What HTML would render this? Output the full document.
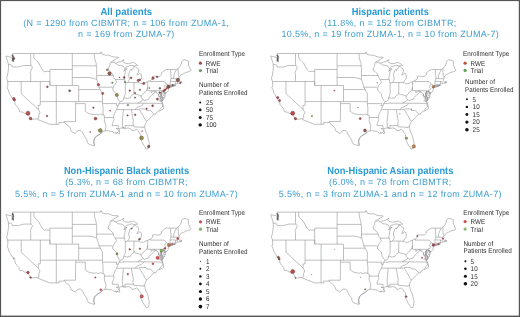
<!DOCTYPE html>
<html><head><meta charset="utf-8"><style>
html,body{margin:0;padding:0;background:#fff;}
body{width:520px;height:317px;overflow:hidden;}
svg{display:block;}
#w{width:520px;height:317px;will-change:transform;}
text{font-family:"Liberation Sans",sans-serif;text-rendering:geometricPrecision;}
.t{font-weight:bold;fill:#2a9ad3;font-size:10.2px;}
.s{fill:#3f9ecf;font-size:9px;letter-spacing:0.34px;}
.l{fill:#2b2b2b;font-size:6.9px;letter-spacing:0.07px;}
</style></head><body>
<div id="w"><svg width="520" height="317" viewBox="0 0 520 317">
<defs><g id="us"><path d="M6.1 56.0 L9.7 56.9 L11.6 57.1 L12.1 58.1 L11.9 61.1 L13.4 60.3 L13.5 58.9 L14.0 57.5 L13.2 55.5 L12.9 54.3 L12.4 53.5 L100.8 53.5 L100.8 52.0 L101.5 52.2 L102.3 54.1 L102.6 54.7 L105.0 54.9 L106.4 55.4 L108.1 55.0 L110.0 55.7 L112.2 56.7 L114.8 57.1 L117.0 57.1 L118.6 57.5 L115.4 59.5 L112.5 61.1 L110.6 62.4 L111.6 62.7 L114.1 61.9 L114.5 63.1 L116.0 63.2 L118.6 62.1 L120.9 61.7 L124.1 59.6 L122.8 61.3 L123.4 62.1 L125.7 63.3 L128.2 63.7 L131.1 62.9 L133.5 62.4 L135.1 63.5 L136.2 63.9 L137.8 65.5 L135.6 65.7 L134.2 66.0 L132.1 65.3 L129.4 65.7 L128.2 66.5 L126.8 66.3 L126.0 67.3 L125.0 69.1 L123.8 71.4 L124.9 70.1 L127.1 68.5 L126.0 70.1 L125.4 71.5 L124.9 73.1 L124.7 75.5 L124.1 77.4 L124.4 79.5 L125.0 82.0 L125.3 82.7 L126.0 83.1 L127.5 82.5 L128.6 81.1 L129.5 78.7 L128.7 76.3 L128.8 74.3 L129.4 72.3 L130.0 70.5 L131.4 69.3 L131.8 70.5 L132.2 69.5 L133.4 67.9 L134.1 66.4 L135.3 66.7 L136.6 67.7 L138.5 69.1 L138.8 70.7 L138.3 72.3 L137.5 73.7 L136.9 75.1 L138.2 74.5 L139.8 73.3 L141.1 73.9 L141.6 77.5 L141.1 79.1 L139.8 80.3 L139.1 81.5 L138.3 82.6 L139.8 83.1 L140.7 83.7 L143.0 83.7 L143.9 83.5 L145.5 82.5 L147.7 81.6 L149.1 81.0 L150.2 80.5 L152.3 79.1 L152.9 78.0 L152.4 76.5 L154.5 76.1 L157.1 76.5 L159.6 76.3 L160.6 75.7 L161.6 74.5 L161.1 73.1 L162.8 71.9 L165.1 70.1 L166.4 69.5 L170.7 69.5 L176.6 69.5 L178.0 68.3 L179.2 67.5 L180.5 65.5 L181.3 63.9 L181.6 61.5 L183.9 59.7 L186.5 60.3 L188.5 61.1 L188.5 65.7 L189.6 66.9 L190.1 68.9 L191.2 70.3 L189.4 71.5 L187.2 72.1 L185.3 72.7 L183.7 73.7 L181.7 74.5 L180.8 74.9 L180.1 76.1 L179.2 77.2 L178.8 78.1 L179.5 78.9 L178.5 79.5 L178.1 80.1 L178.7 80.7 L179.5 81.7 L179.8 82.5 L181.4 82.5 L180.8 81.3 L181.3 81.3 L181.6 82.3 L181.6 82.9 L179.5 83.3 L178.9 83.1 L177.8 83.5 L176.9 83.7 L176.6 84.1 L175.5 84.3 L173.7 84.5 L172.1 84.5 L170.5 85.1 L169.7 85.5 L169.2 86.3 L168.6 86.7 L167.8 87.6 L168.6 87.8 L168.4 89.2 L168.3 90.6 L167.2 92.2 L165.5 93.8 L165.7 92.8 L164.4 92.0 L163.6 91.2 L164.1 92.4 L165.1 94.4 L165.2 95.8 L164.6 97.6 L163.5 99.4 L162.3 101.2 L162.7 99.2 L162.7 97.6 L161.7 96.0 L161.4 94.4 L161.7 92.8 L162.2 91.4 L160.8 92.6 L160.6 94.0 L160.9 96.0 L161.2 97.6 L161.2 99.6 L161.2 101.6 L162.2 101.9 L162.6 103.4 L163.6 106.4 L163.7 108.6 L162.2 109.6 L160.1 110.8 L158.4 111.2 L156.3 112.7 L155.9 114.2 L154.0 114.2 L153.1 114.8 L151.9 116.4 L149.7 118.6 L147.9 120.0 L146.6 121.5 L145.5 123.6 L144.8 125.6 L144.7 126.8 L144.9 128.4 L145.2 130.0 L146.2 132.8 L147.6 135.8 L148.4 139.6 L149.3 142.8 L148.9 146.6 L148.1 148.6 L146.2 149.2 L145.7 148.0 L143.6 145.1 L142.8 143.6 L142.0 141.6 L140.7 139.6 L140.4 137.6 L140.9 134.8 L139.6 133.2 L137.8 130.4 L136.2 129.2 L135.3 130.0 L132.2 130.9 L131.1 129.0 L128.6 128.0 L126.3 128.2 L125.3 128.5 L123.8 128.7 L123.7 126.9 L123.4 128.0 L122.5 128.1 L120.5 128.2 L118.6 128.9 L119.3 129.4 L118.6 130.8 L119.6 132.0 L119.7 133.0 L119.3 133.8 L117.7 132.6 L116.4 133.2 L114.1 133.0 L112.5 131.4 L110.0 131.2 L106.8 130.6 L105.0 130.8 L102.3 132.0 L100.7 133.6 L98.3 135.0 L96.8 135.8 L94.3 138.4 L93.6 141.6 L94.4 145.4 L94.4 145.8 L92.7 145.4 L90.7 144.8 L88.5 144.0 L87.1 141.6 L86.9 139.6 L84.7 136.8 L83.7 134.8 L82.4 132.2 L80.8 130.4 L77.6 130.6 L76.0 132.8 L75.2 133.6 L74.1 132.8 L71.2 131.2 L70.2 128.4 L69.3 126.8 L67.4 125.2 L64.4 122.5 L59.0 122.5 L59.0 124.3 L49.8 124.3 L37.9 119.6 L38.1 118.7 L30.5 119.5 L30.2 118.8 L29.7 116.8 L28.0 115.2 L26.7 114.6 L26.0 113.6 L24.7 113.4 L22.2 112.0 L19.7 111.8 L19.3 111.2 L19.0 109.0 L17.1 106.8 L15.1 104.4 L15.1 103.2 L14.8 101.8 L13.2 99.6 L13.2 98.4 L11.6 97.6 L10.8 95.6 L9.4 93.6 L8.1 89.6 L7.1 87.8 L7.9 85.5 L7.7 81.5 L6.6 78.2 L7.4 75.9 L8.2 71.1 L8.6 67.5 L8.4 64.5 L8.1 62.7 L7.4 60.3 L6.3 57.9 L6.1 56.0Z M168.6 87.2 L170.2 87.2 L173.1 86.3 L175.5 85.3 L174.1 85.5 L171.8 85.7 L169.9 85.9 L168.8 86.4Z M8.4 64.5 L10.6 64.7 L11.9 65.3 L12.4 67.1 L15.1 66.9 L17.4 67.1 L19.6 66.7 L22.5 65.8 L24.5 65.5 L31.1 65.5 M31.1 65.5 L30.7 63.8 L30.7 53.5 M31.1 65.5 L32.5 67.1 L31.8 68.7 L31.2 70.3 L30.2 72.3 L30.7 74.1 L30.7 81.5 M7.7 81.5 L49.9 81.5 M21.2 81.5 L21.2 93.6 L38.4 109.6 M38.4 109.6 L40.0 112.4 L38.8 115.2 L38.8 117.6 L38.1 118.7 M38.4 109.6 L38.3 107.6 L38.1 105.4 L40.3 105.2 L40.3 101.6 M40.3 101.6 L40.3 81.5 M40.3 101.6 L102.5 101.6 M56.3 124.3 L56.3 85.5 M49.9 81.5 L49.9 85.5 L72.3 85.5 M49.9 85.5 L49.9 69.5 M49.9 71.6 L47.2 71.3 L44.3 71.7 L42.4 69.9 L40.6 66.7 L38.8 63.1 L37.2 61.5 L35.0 59.3 L33.9 57.5 L33.9 53.5 M49.9 69.5 L72.3 69.5 M72.3 53.5 L72.3 85.5 M72.3 65.8 L96.3 65.8 M72.3 77.5 L90.1 77.5 L92.0 78.1 L94.3 78.5 L96.7 79.5 M72.3 85.5 L78.7 85.5 L78.7 101.6 M78.7 89.6 L100.4 89.6 M75.7 101.6 L75.7 103.6 L75.5 121.6 L64.1 121.6 L64.4 122.5 M75.7 103.6 L85.3 103.6 L85.3 111.3 M85.3 111.3 L86.6 112.1 L87.9 113.0 L89.8 114.0 L92.0 114.2 L94.4 114.7 L96.2 114.2 L98.4 115.0 L100.4 114.1 L103.0 115.0 L104.4 115.4 M102.5 101.6 L102.5 103.6 L103.1 108.0 L103.0 115.0 M104.4 115.4 L104.4 121.6 L104.5 122.0 L106.0 125.6 L105.5 129.2 L105.0 130.8 M104.4 117.5 L113.6 117.5 M113.6 117.5 L114.1 119.6 L113.2 121.6 L112.5 123.6 L112.1 125.6 L118.2 125.6 L118.3 127.6 L118.6 128.9 M113.6 117.5 L113.8 115.6 L114.5 113.6 L115.6 111.2 L116.7 109.6 L117.2 107.6 L118.3 105.6 L118.9 103.6 L120.1 101.6 M102.5 103.6 L116.9 103.6 L116.2 105.6 L118.3 105.6 M120.1 101.6 L118.9 100.4 L117.7 98.4 L116.7 95.2 L116.7 94.0 L115.1 92.4 L112.9 90.4 L112.8 88.0 M98.9 87.2 L111.8 87.2 L112.8 88.0 M102.5 101.6 L102.5 93.2 L101.3 91.6 L100.4 89.6 L98.9 87.2 M98.9 87.2 L98.4 84.7 L97.8 82.7 L97.5 81.5 L96.7 79.5 M96.7 79.5 L96.7 75.5 L96.7 68.3 L96.3 65.8 M96.3 65.8 L96.2 63.5 L95.5 61.5 L94.6 57.9 L94.4 55.5 L94.2 53.5 M96.7 75.5 L113.4 75.5 M113.4 75.5 L113.7 77.5 L115.3 79.5 L116.7 82.3 L115.4 83.7 L114.1 85.5 L112.8 88.0 M113.4 75.5 L112.2 73.5 L110.3 71.5 L108.4 70.5 L108.5 67.9 L109.8 65.9 L110.0 65.1 L110.0 63.1 L110.6 62.6 M115.3 79.5 L124.4 79.5 M125.0 69.1 L124.2 67.9 L123.4 66.3 L121.2 65.5 L117.7 65.1 L116.0 63.2 M125.3 82.5 L125.3 92.2 L125.4 94.0 L124.7 95.6 L123.9 97.6 L123.6 98.4 M123.6 98.4 L123.4 100.0 L122.1 101.2 L120.1 101.6 M127.5 82.5 L134.0 82.5 L138.3 82.6 M134.0 82.5 L133.9 93.2 M133.9 93.2 L133.4 94.6 L132.1 95.2 L130.8 96.4 L130.2 97.8 L128.2 98.2 L126.6 98.4 L125.0 97.8 L123.6 98.4 M147.7 81.6 L147.7 90.7 M147.7 87.0 L147.1 89.2 L146.2 91.2 L144.6 92.2 L143.3 94.0 L141.1 96.0 M141.1 96.0 L139.1 95.2 L137.5 94.8 L135.6 94.4 L133.9 93.2 M141.1 96.0 L141.5 98.0 L143.1 99.4 L142.0 100.8 L137.6 103.2 M137.6 103.2 L123.6 103.2 L123.6 103.6 L118.9 103.6 M137.6 103.2 L162.6 103.4 M144.1 103.3 L143.3 104.4 L142.3 105.2 L141.1 105.8 L139.1 106.8 L137.2 107.4 L135.6 108.8 L135.5 109.6 M139.5 109.6 L116.7 109.6 M139.5 108.8 L142.0 108.8 L146.0 109.0 L146.5 109.6 L146.8 110.4 L150.4 110.4 L154.0 114.2 M139.5 109.6 L140.7 111.6 L142.0 114.0 L143.3 116.0 L144.9 119.2 L146.6 121.5 M131.4 109.6 L132.1 113.6 L132.8 118.2 L133.4 120.4 L133.0 123.6 L133.4 125.6 L133.8 126.8 M133.8 126.8 L142.3 127.3 L142.8 128.0 L143.3 126.8 L144.7 126.8 M133.4 125.6 L125.0 125.6 L125.3 128.5 M123.1 109.6 L123.4 110.0 L122.3 122.0 L122.5 128.1 M143.1 99.4 L144.3 100.8 L146.2 100.0 L148.4 99.4 L149.4 97.6 L150.7 96.0 L151.9 94.8 L154.5 92.8 L154.7 91.8 L156.7 92.3 M156.7 92.3 L155.2 91.2 L154.2 90.8 L152.9 91.6 L151.0 92.8 L151.0 90.7 M147.7 90.7 L162.9 90.7 L163.5 90.2 L164.1 90.3 M156.7 92.3 L157.4 93.2 L158.8 94.0 L158.4 96.0 L161.2 97.6 M162.7 97.6 L164.6 97.6 M162.9 90.7 L163.2 95.8 L165.2 95.8 M163.6 91.2 L164.1 90.3 L166.2 88.8 L164.8 87.2 L165.1 85.5 L166.4 84.1 M166.4 84.1 L168.9 85.5 L168.6 86.7 M150.2 80.5 L150.2 81.5 L164.3 81.5 L165.2 82.5 L166.4 84.1 M169.7 85.5 L170.2 84.3 L170.2 81.3 L171.0 78.5 L171.0 75.1 L170.5 73.5 L170.7 69.5 M170.2 81.3 L175.7 81.4 M175.7 81.4 L175.5 84.3 M175.7 81.5 L177.0 81.5 L177.8 83.5 M171.0 78.5 L173.5 78.6 L177.4 78.7 L178.8 78.1 M173.5 78.6 L173.9 75.1 L175.0 72.3 L176.6 69.5 M179.2 77.2 L178.4 75.5 L178.2 72.3 L178.0 68.3" fill="#fff" stroke="#8a8a8a" stroke-width="0.55" stroke-linejoin="round"/><path d="M12.3 55.2 C13.2 56.2 13.4 57.4 13.0 58.6 C12.6 59.6 12.9 60.6 13.2 61.2" fill="none" stroke="#55555d" stroke-width="1.4" stroke-linecap="round"/><path d="M162.2 91.4 L160.8 92.6 L160.6 94.0 L160.9 96.0 L161.2 97.6 L161.2 99.6 L161.2 101.6 L162.2 101.9 M161.2 97.6 L159.3 96.4 L158.7 95.2 L158.8 94.2 M161.2 99.2 L159.6 98.0 L158.7 97.2 M160.9 100.6 L159.6 99.6 M161.2 101.6 L160.0 100.8 L158.7 100.4 M162.3 101.2 L162.7 99.2 L162.7 97.6 L161.7 96.0 L161.4 94.4 L161.7 92.8 L162.2 91.4 M165.5 93.8 L165.7 92.8 L164.4 92.0 L163.6 91.2 L164.1 92.4 L165.1 94.4 M168.6 87.2 L170.2 87.2 L173.1 86.3 L175.5 85.3 L174.1 85.5 L171.8 85.7 L169.9 85.9 L168.8 86.4 M162.2 103.4 L162.2 105.6 L163.0 106.0 L161.6 107.6 L160.6 108.4 L160.0 109.6 L159.6 110.6 M102.6 131.8 L101.0 133.4 L98.1 135.2 L95.9 136.8 L94.8 138.4 L94.0 140.8 L94.1 143.2 L94.4 145.2 M116.1 128.4 L117.2 129.4 L118.0 128.8 L116.1 128.4 M119.3 130.0 L118.9 131.2 L119.6 132.4 M115.4 132.4 L116.7 133.2 L117.7 132.6" fill="none" stroke="#7d7d88" stroke-width="0.5" stroke-linejoin="round"/></g></defs>
<rect width="520" height="317" fill="#fff"/>

<g transform="translate(0.0 0.0)"><use href="#us"/>
<circle cx="13.8" cy="58.6" r="1.07" fill="#8a4a36" fill-opacity="0.75" stroke="#4e2a22" stroke-width="0.45"/>
<circle cx="13.8" cy="98.6" r="1.18" fill="#b04440" fill-opacity="0.90" stroke="#642828" stroke-width="0.45"/>
<circle cx="14.5" cy="99.9" r="1.07" fill="#b04440" fill-opacity="0.90" stroke="#642828" stroke-width="0.45"/>
<circle cx="28.0" cy="113.2" r="1.98" fill="#b04440" fill-opacity="0.90" stroke="#642828" stroke-width="0.45"/>
<circle cx="30.6" cy="118.6" r="1.27" fill="#9a3c38" fill-opacity="0.90" stroke="#5a2a2a" stroke-width="0.45"/>
<circle cx="47.0" cy="116.0" r="0.83" fill="#9a3c38" fill-opacity="0.90" stroke="#5a2a2a" stroke-width="0.45"/>
<circle cx="47.4" cy="86.8" r="0.88" fill="#9a3c38" fill-opacity="0.90" stroke="#5a2a2a" stroke-width="0.45"/>
<circle cx="69.7" cy="90.8" r="1.02" fill="#84504a" fill-opacity="0.90" stroke="#4e3636" stroke-width="0.45"/>
<circle cx="98.4" cy="84.7" r="1.18" fill="#b04440" fill-opacity="0.90" stroke="#642828" stroke-width="0.45"/>
<circle cx="102.7" cy="93.4" r="1.07" fill="#b04440" fill-opacity="0.90" stroke="#642828" stroke-width="0.45"/>
<circle cx="93.4" cy="107.7" r="0.72" fill="#9a3c38" fill-opacity="0.90" stroke="#5a2a2a" stroke-width="0.45"/>
<circle cx="95.5" cy="118.6" r="1.43" fill="#9a3c38" fill-opacity="0.90" stroke="#5a2a2a" stroke-width="0.45"/>
<circle cx="100.3" cy="130.5" r="1.88" fill="#8e8240" fill-opacity="0.90" stroke="#5a5226" stroke-width="0.45"/>
<circle cx="90.2" cy="131.9" r="0.57" fill="#9a3c38" fill-opacity="0.90" stroke="#5a2a2a" stroke-width="0.25"/>
<circle cx="110.2" cy="110.7" r="0.67" fill="#9a3c38" fill-opacity="0.90" stroke="#5a2a2a" stroke-width="0.25"/>
<circle cx="107.2" cy="69.8" r="0.98" fill="#b07a62" fill-opacity="0.90" stroke="#7a5040" stroke-width="0.45"/>
<circle cx="109.5" cy="73.5" r="1.68" fill="#8a4a36" fill-opacity="0.90" stroke="#4e2a22" stroke-width="0.45"/>
<circle cx="112.4" cy="82.8" r="0.78" fill="#6a9a5c" fill-opacity="0.90" stroke="#45663e" stroke-width="0.45"/>
<circle cx="119.5" cy="77.5" r="0.57" fill="#9a3c38" fill-opacity="0.90" stroke="#5a2a2a" stroke-width="0.25"/>
<circle cx="124.2" cy="77.5" r="0.88" fill="#9a3c38" fill-opacity="0.90" stroke="#5a2a2a" stroke-width="0.45"/>
<circle cx="124.9" cy="82.0" r="0.78" fill="#6a9a5c" fill-opacity="0.90" stroke="#45663e" stroke-width="0.45"/>
<circle cx="131.1" cy="77.8" r="0.88" fill="#9a3c38" fill-opacity="0.90" stroke="#5a2a2a" stroke-width="0.45"/>
<circle cx="138.2" cy="80.4" r="1.07" fill="#b04440" fill-opacity="0.90" stroke="#642828" stroke-width="0.45"/>
<circle cx="139.8" cy="79.8" r="0.88" fill="#b04440" fill-opacity="0.90" stroke="#642828" stroke-width="0.45"/>
<circle cx="143.7" cy="83.4" r="1.12" fill="#b04440" fill-opacity="0.90" stroke="#642828" stroke-width="0.45"/>
<circle cx="153.0" cy="78.2" r="1.18" fill="#b04440" fill-opacity="0.90" stroke="#642828" stroke-width="0.45"/>
<circle cx="157.1" cy="76.9" r="0.78" fill="#9a3c38" fill-opacity="0.90" stroke="#5a2a2a" stroke-width="0.45"/>
<circle cx="149.3" cy="88.0" r="0.62" fill="#9a3c38" fill-opacity="0.90" stroke="#5a2a2a" stroke-width="0.25"/>
<circle cx="129.8" cy="90.6" r="0.78" fill="#9a3c38" fill-opacity="0.90" stroke="#5a2a2a" stroke-width="0.45"/>
<circle cx="139.9" cy="89.8" r="0.72" fill="#84504a" fill-opacity="0.90" stroke="#4e3636" stroke-width="0.45"/>
<circle cx="135.1" cy="93.1" r="0.72" fill="#9a3c38" fill-opacity="0.90" stroke="#5a2a2a" stroke-width="0.45"/>
<circle cx="135.1" cy="97.6" r="0.68" fill="#84504a" fill-opacity="0.90" stroke="#4e3636" stroke-width="0.45"/>
<circle cx="116.8" cy="95.0" r="1.62" fill="#8e8240" fill-opacity="0.90" stroke="#5a5226" stroke-width="0.45"/>
<circle cx="127.9" cy="105.0" r="0.83" fill="#6a9a5c" fill-opacity="0.90" stroke="#45663e" stroke-width="0.45"/>
<circle cx="127.6" cy="115.4" r="0.68" fill="#9a3c38" fill-opacity="0.90" stroke="#5a2a2a" stroke-width="0.45"/>
<circle cx="135.2" cy="114.8" r="0.83" fill="#9a3c38" fill-opacity="0.90" stroke="#5a2a2a" stroke-width="0.45"/>
<circle cx="152.6" cy="105.7" r="0.93" fill="#9a3c38" fill-opacity="0.90" stroke="#5a2a2a" stroke-width="0.45"/>
<circle cx="146.6" cy="108.7" r="0.72" fill="#9a3c38" fill-opacity="0.90" stroke="#5a2a2a" stroke-width="0.45"/>
<circle cx="157.4" cy="99.1" r="1.07" fill="#b04440" fill-opacity="0.90" stroke="#642828" stroke-width="0.45"/>
<circle cx="141.6" cy="137.9" r="1.92" fill="#8e8240" fill-opacity="0.90" stroke="#5a5226" stroke-width="0.45"/>
<circle cx="142.1" cy="131.1" r="0.57" fill="#9a3c38" fill-opacity="0.90" stroke="#5a2a2a" stroke-width="0.25"/>
<circle cx="148.7" cy="146.5" r="1.18" fill="#8a4a36" fill-opacity="0.90" stroke="#4e2a22" stroke-width="0.45"/>
<circle cx="177.9" cy="80.0" r="1.68" fill="#8a4a36" fill-opacity="0.90" stroke="#4e2a22" stroke-width="0.45"/>
<circle cx="180.3" cy="82.9" r="0.68" fill="#b04440" fill-opacity="0.90" stroke="#642828" stroke-width="0.45"/>
<circle cx="168.3" cy="86.7" r="1.68" fill="#8a4a36" fill-opacity="0.90" stroke="#4e2a22" stroke-width="0.45"/>
<circle cx="172.6" cy="85.0" r="0.72" fill="#84504a" fill-opacity="0.60" stroke="#4e3636" stroke-width="0.45"/>
<circle cx="159.9" cy="88.3" r="0.88" fill="#b04440" fill-opacity="0.90" stroke="#642828" stroke-width="0.45"/>
<circle cx="164.9" cy="90.0" r="0.98" fill="#b04440" fill-opacity="0.90" stroke="#642828" stroke-width="0.45"/>
<circle cx="163.6" cy="91.0" r="0.68" fill="#b04440" fill-opacity="0.90" stroke="#642828" stroke-width="0.45"/>
<circle cx="159.7" cy="92.6" r="0.83" fill="#9a3c38" fill-opacity="0.90" stroke="#5a2a2a" stroke-width="0.45"/>
<circle cx="166.6" cy="88.6" r="0.68" fill="#b04440" fill-opacity="0.90" stroke="#642828" stroke-width="0.45"/>
</g>
<g transform="translate(264.8 0.0)"><use href="#us"/>
<circle cx="12.9" cy="97.6" r="1.12" fill="#b8383a" fill-opacity="0.90" stroke="#6a2225" stroke-width="0.45"/>
<circle cx="14.8" cy="100.6" r="1.02" fill="#b8383a" fill-opacity="0.90" stroke="#6a2225" stroke-width="0.45"/>
<circle cx="27.9" cy="113.2" r="1.98" fill="#b8383a" fill-opacity="0.90" stroke="#6a2225" stroke-width="0.45"/>
<circle cx="30.6" cy="118.6" r="1.18" fill="#9a3c38" fill-opacity="0.90" stroke="#5a2a2a" stroke-width="0.45"/>
<circle cx="47.1" cy="116.1" r="0.68" fill="#8e8240" fill-opacity="0.90" stroke="#5a5226" stroke-width="0.45"/>
<circle cx="69.5" cy="90.6" r="0.67" fill="#b04440" fill-opacity="0.90" stroke="#642828" stroke-width="0.25"/>
<circle cx="93.2" cy="107.6" r="0.47" fill="#b04440" fill-opacity="0.90" stroke="#642828" stroke-width="0.25"/>
<circle cx="95.4" cy="118.6" r="1.02" fill="#b8383a" fill-opacity="0.90" stroke="#6a2225" stroke-width="0.45"/>
<circle cx="100.2" cy="130.5" r="1.43" fill="#8a4a36" fill-opacity="0.90" stroke="#4e2a22" stroke-width="0.45"/>
<circle cx="112.4" cy="82.8" r="0.43" fill="#9a3c38" fill-opacity="0.90" stroke="#5a2a2a" stroke-width="0.25"/>
<circle cx="168.5" cy="86.8" r="1.23" fill="#c0783e" fill-opacity="0.90" stroke="#7a4426" stroke-width="0.45"/>
<circle cx="141.7" cy="138.2" r="1.07" fill="#8e8240" fill-opacity="0.90" stroke="#5a5226" stroke-width="0.45"/>
<circle cx="149.0" cy="146.4" r="1.68" fill="#c0783e" fill-opacity="0.90" stroke="#7a4426" stroke-width="0.45"/>
<circle cx="146.5" cy="109.2" r="0.38" fill="#b04440" fill-opacity="0.90" stroke="#642828" stroke-width="0.25"/>
<circle cx="135.1" cy="113.9" r="0.38" fill="#b04440" fill-opacity="0.90" stroke="#642828" stroke-width="0.25"/>
</g>
<g transform="translate(0.0 158.6)"><use href="#us"/>
<circle cx="14.1" cy="99.6" r="0.47" fill="#9a3c38" fill-opacity="0.90" stroke="#5a2a2a" stroke-width="0.25"/>
<circle cx="28.0" cy="113.8" r="1.27" fill="#b8383a" fill-opacity="0.90" stroke="#6a2225" stroke-width="0.45"/>
<circle cx="30.6" cy="118.9" r="0.83" fill="#9a3c38" fill-opacity="0.90" stroke="#5a2a2a" stroke-width="0.45"/>
<circle cx="95.3" cy="118.9" r="0.68" fill="#d04848" fill-opacity="0.90" stroke="#8a2c2c" stroke-width="0.45"/>
<circle cx="100.8" cy="131.1" r="0.93" fill="#d04848" fill-opacity="0.90" stroke="#8a2c2c" stroke-width="0.45"/>
<circle cx="127.8" cy="115.6" r="0.83" fill="#d04848" fill-opacity="0.90" stroke="#8a2c2c" stroke-width="0.45"/>
<circle cx="131.6" cy="70.0" r="0.57" fill="#d04848" fill-opacity="0.90" stroke="#8a2c2c" stroke-width="0.25"/>
<circle cx="139.5" cy="80.6" r="0.88" fill="#9a3c38" fill-opacity="0.90" stroke="#5a2a2a" stroke-width="0.45"/>
<circle cx="129.7" cy="90.8" r="0.78" fill="#9a3c38" fill-opacity="0.90" stroke="#5a2a2a" stroke-width="0.45"/>
<circle cx="139.9" cy="90.1" r="0.78" fill="#9a3c38" fill-opacity="0.90" stroke="#5a2a2a" stroke-width="0.45"/>
<circle cx="117.0" cy="95.2" r="1.02" fill="#8e8240" fill-opacity="0.90" stroke="#5a5226" stroke-width="0.45"/>
<circle cx="157.6" cy="99.2" r="1.62" fill="#d04848" fill-opacity="0.90" stroke="#8a2c2c" stroke-width="0.45"/>
<circle cx="152.9" cy="105.2" r="0.93" fill="#d04848" fill-opacity="0.90" stroke="#8a2c2c" stroke-width="0.45"/>
<circle cx="141.8" cy="137.8" r="1.57" fill="#d04848" fill-opacity="0.90" stroke="#8a2c2c" stroke-width="0.45"/>
<circle cx="177.8" cy="80.0" r="1.12" fill="#d04848" fill-opacity="0.90" stroke="#8a2c2c" stroke-width="0.45"/>
<circle cx="168.9" cy="86.5" r="1.52" fill="#c0783e" fill-opacity="0.90" stroke="#7a4426" stroke-width="0.45"/>
<circle cx="172.3" cy="85.3" r="0.67" fill="#d04848" fill-opacity="0.90" stroke="#8a2c2c" stroke-width="0.25"/>
<circle cx="165.0" cy="89.8" r="0.88" fill="#b8383a" fill-opacity="0.90" stroke="#6a2225" stroke-width="0.45"/>
<circle cx="161.3" cy="92.1" r="1.38" fill="#80b048" fill-opacity="0.90" stroke="#5a8030" stroke-width="0.45"/>
</g>
<g transform="translate(264.8 158.6)"><use href="#us"/>
<circle cx="13.6" cy="98.7" r="0.98" fill="#8a4a36" fill-opacity="0.90" stroke="#4e2a22" stroke-width="0.45"/>
<circle cx="14.4" cy="100.4" r="0.98" fill="#8a4a36" fill-opacity="0.90" stroke="#4e2a22" stroke-width="0.45"/>
<circle cx="27.9" cy="113.0" r="1.98" fill="#b8383a" fill-opacity="0.90" stroke="#6a2225" stroke-width="0.45"/>
<circle cx="30.7" cy="119.2" r="0.62" fill="#9a3c38" fill-opacity="0.90" stroke="#5a2a2a" stroke-width="0.25"/>
<circle cx="46.9" cy="116.0" r="0.32" fill="#b04440" fill-opacity="0.90" stroke="#642828" stroke-width="0.25"/>
<circle cx="69.7" cy="90.7" r="0.32" fill="#b04440" fill-opacity="0.90" stroke="#642828" stroke-width="0.25"/>
<circle cx="96.0" cy="118.6" r="0.32" fill="#b04440" fill-opacity="0.90" stroke="#642828" stroke-width="0.25"/>
<circle cx="100.4" cy="130.8" r="0.68" fill="#8e8240" fill-opacity="0.90" stroke="#5a5226" stroke-width="0.45"/>
<circle cx="152.5" cy="77.4" r="0.62" fill="#b8383a" fill-opacity="0.90" stroke="#6a2225" stroke-width="0.45"/>
<circle cx="178.0" cy="80.0" r="0.72" fill="#b8383a" fill-opacity="0.90" stroke="#6a2225" stroke-width="0.45"/>
<circle cx="168.5" cy="86.3" r="1.23" fill="#b8383a" fill-opacity="0.90" stroke="#6a2225" stroke-width="0.45"/>
<circle cx="173.6" cy="85.2" r="0.67" fill="#b8383a" fill-opacity="0.90" stroke="#6a2225" stroke-width="0.25"/>
<circle cx="157.2" cy="99.2" r="0.62" fill="#b8383a" fill-opacity="0.90" stroke="#6a2225" stroke-width="0.45"/>
<circle cx="141.4" cy="138.0" r="0.88" fill="#84504a" fill-opacity="0.90" stroke="#4e3636" stroke-width="0.45"/>
</g>
<text class="t" transform="translate(126.30 14.60) scale(0.942 1)" text-anchor="middle">All patients</text>
<text class="s" x="126.3" y="26.1" text-anchor="middle">(N = 1290 from CIBMTR; n = 106 from ZUMA-1,</text>
<text class="s" x="126.3" y="36.9" text-anchor="middle">n = 169 from ZUMA-7)</text>
<text class="t" transform="translate(390.30 14.60) scale(0.915 1)" text-anchor="middle">Hispanic patients</text>
<text class="s" x="390.3" y="26.1" text-anchor="middle">(11.8%, n = 152 from CIBMTR;</text>
<text class="s" x="390.3" y="36.9" text-anchor="middle">10.5%, n = 19 from ZUMA-1, n = 10 from ZUMA-7)</text>
<text class="t" transform="translate(126.50 173.60) scale(0.910 1)" text-anchor="middle">Non-Hispanic Black patients</text>
<text class="s" x="126.5" y="185.0" text-anchor="middle">(5.3%, n = 68 from CIBMTR;</text>
<text class="s" x="126.5" y="196.7" text-anchor="middle">5.5%, n = 5 from ZUMA-1 and n = 10 from ZUMA-7)</text>
<text class="t" transform="translate(390.30 173.60) scale(0.916 1)" text-anchor="middle">Non-Hispanic Asian patients</text>
<text class="s" x="390.3" y="185.0" text-anchor="middle">(6.0%, n = 78 from CIBMTR;</text>
<text class="s" x="390.3" y="196.7" text-anchor="middle">5.5%, n = 3 from ZUMA-1 and n = 12 from ZUMA-7)</text>
<g transform="translate(0.0 0.0)">
<text class="l" transform="translate(199.00 55.90) scale(0.91 1)">Enrollment Type</text>
<circle cx="200.4" cy="63.2" r="1.6" fill="#a84a50"/>
<text class="l" transform="translate(205.80 65.60) scale(0.91 1)">RWE</text>
<circle cx="200.4" cy="70.6" r="1.6" fill="#6e9a6e"/>
<text class="l" transform="translate(205.80 73.00) scale(0.91 1)">Trial</text>
<text class="l" transform="translate(199.00 87.20) scale(0.91 1)">Number of</text>
<text class="l" transform="translate(199.00 94.60) scale(0.91 1)">Patients Enrolled</text>
<circle cx="200.2" cy="102.4" r="1.00" fill="#111"/>
<text class="l" transform="translate(205.90 104.70) scale(0.91 1)">25</text>
<circle cx="200.2" cy="109.9" r="1.30" fill="#111"/>
<text class="l" transform="translate(205.90 112.20) scale(0.91 1)">50</text>
<circle cx="200.2" cy="117.4" r="1.50" fill="#111"/>
<text class="l" transform="translate(205.90 119.70) scale(0.91 1)">75</text>
<circle cx="200.2" cy="124.9" r="1.70" fill="#111"/>
<text class="l" transform="translate(205.90 127.20) scale(0.91 1)">100</text>
</g>
<g transform="translate(264.8 0.0)">
<text class="l" transform="translate(198.30 55.90) scale(0.91 1)">Enrollment Type</text>
<circle cx="200.3" cy="63.2" r="1.6" fill="#c2503f"/>
<text class="l" transform="translate(205.80 65.60) scale(0.91 1)">RWE</text>
<circle cx="200.3" cy="70.4" r="1.6" fill="#5fa452"/>
<text class="l" transform="translate(205.80 72.80) scale(0.91 1)">Trial</text>
<text class="l" transform="translate(200.30 84.30) scale(0.91 1)">Number of</text>
<text class="l" transform="translate(200.30 91.70) scale(0.91 1)">Patients Enrolled</text>
<circle cx="202.1" cy="99.3" r="0.95" fill="#111"/>
<text class="l" transform="translate(207.80 101.60) scale(0.91 1)">5</text>
<circle cx="202.1" cy="106.9" r="1.20" fill="#111"/>
<text class="l" transform="translate(207.80 109.20) scale(0.91 1)">10</text>
<circle cx="202.1" cy="114.5" r="1.43" fill="#111"/>
<text class="l" transform="translate(207.80 116.80) scale(0.91 1)">15</text>
<circle cx="202.1" cy="122.1" r="1.62" fill="#111"/>
<text class="l" transform="translate(207.80 124.40) scale(0.91 1)">20</text>
<circle cx="202.1" cy="129.7" r="1.80" fill="#111"/>
<text class="l" transform="translate(207.80 132.00) scale(0.91 1)">25</text>
</g>
<g transform="translate(0.0 158.6)">
<text class="l" transform="translate(199.00 56.20) scale(0.91 1)">Enrollment Type</text>
<circle cx="200.5" cy="63.2" r="1.6" fill="#c8504e"/>
<text class="l" transform="translate(206.00 65.60) scale(0.91 1)">RWE</text>
<circle cx="200.5" cy="70.6" r="1.6" fill="#7eb06c"/>
<text class="l" transform="translate(206.00 73.00) scale(0.91 1)">Trial</text>
<text class="l" transform="translate(199.00 87.70) scale(0.91 1)">Number of</text>
<text class="l" transform="translate(199.00 95.10) scale(0.91 1)">Patients Enrolled</text>
<circle cx="200.4" cy="102.7" r="0.50" fill="#111"/>
<text class="l" transform="translate(206.10 105.00) scale(0.91 1)">1</text>
<circle cx="200.4" cy="110.2" r="0.95" fill="#111"/>
<text class="l" transform="translate(206.10 112.55) scale(0.91 1)">2</text>
<circle cx="200.4" cy="117.8" r="1.20" fill="#111"/>
<text class="l" transform="translate(206.10 120.10) scale(0.91 1)">3</text>
<circle cx="200.4" cy="125.3" r="1.40" fill="#111"/>
<text class="l" transform="translate(206.10 127.65) scale(0.91 1)">4</text>
<circle cx="200.4" cy="132.9" r="1.55" fill="#111"/>
<text class="l" transform="translate(206.10 135.20) scale(0.91 1)">5</text>
<circle cx="200.4" cy="140.4" r="1.70" fill="#111"/>
<text class="l" transform="translate(206.10 142.75) scale(0.91 1)">6</text>
<circle cx="200.4" cy="148.0" r="1.85" fill="#111"/>
<text class="l" transform="translate(206.10 150.30) scale(0.91 1)">7</text>
</g>
<g transform="translate(264.8 158.6)">
<text class="l" transform="translate(198.40 55.90) scale(0.91 1)">Enrollment Type</text>
<circle cx="200.3" cy="63.0" r="1.6" fill="#d0504c"/>
<text class="l" transform="translate(205.80 65.40) scale(0.91 1)">RWE</text>
<circle cx="200.3" cy="70.5" r="1.6" fill="#84b46c"/>
<text class="l" transform="translate(205.80 72.90) scale(0.91 1)">Trial</text>
<text class="l" transform="translate(198.60 87.30) scale(0.91 1)">Number of</text>
<text class="l" transform="translate(198.60 94.70) scale(0.91 1)">Patients Enrolled</text>
<circle cx="200.6" cy="102.6" r="1.00" fill="#111"/>
<text class="l" transform="translate(205.80 104.90) scale(0.91 1)">5</text>
<circle cx="200.6" cy="110.1" r="1.30" fill="#111"/>
<text class="l" transform="translate(205.80 112.40) scale(0.91 1)">10</text>
<circle cx="200.6" cy="117.6" r="1.55" fill="#111"/>
<text class="l" transform="translate(205.80 119.90) scale(0.91 1)">15</text>
<circle cx="200.6" cy="125.1" r="1.80" fill="#111"/>
<text class="l" transform="translate(205.80 127.40) scale(0.91 1)">20</text>
</g>
<rect x="0" y="0" width="520" height="1.1" fill="#555"/><rect x="0" y="0" width="1.1" height="317" fill="#555"/><rect x="518.8" y="0" width="1.2" height="317" fill="#555"/><rect x="0" y="315.6" width="520" height="1.4" fill="#555"/>
</svg></div></body></html>
